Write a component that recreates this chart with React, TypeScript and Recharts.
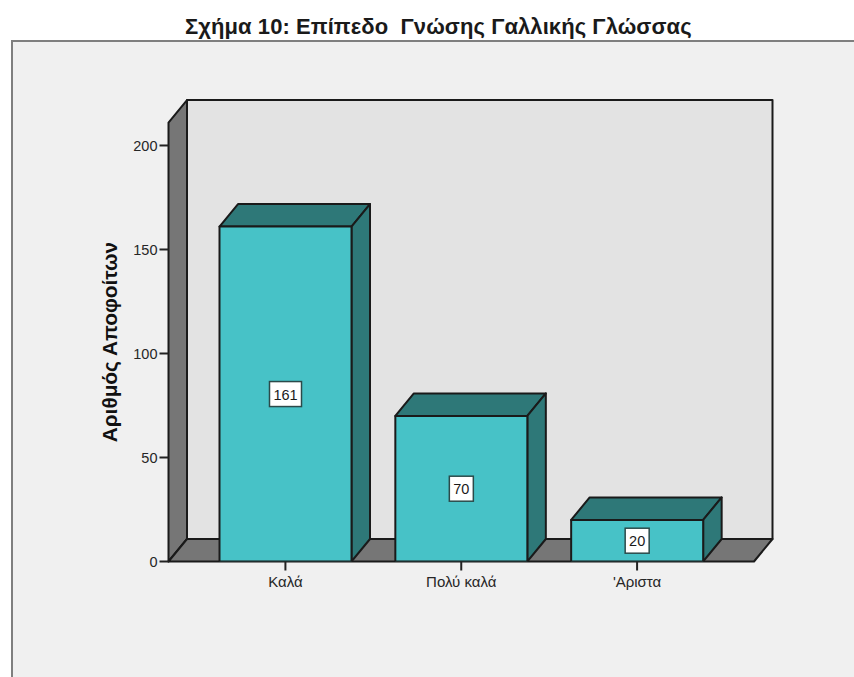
import React from "react";
import { BarChart, Bar, XAxis, YAxis, ReferenceArea, LabelList } from "recharts";

const categories = ["Καλά", "Πολύ καλά", "'Αριστα"];
const counts = [161, 70, 20];
const yTicks = [0, 50, 100, 150, 200];
const title = "Σχήμα 10: Επίπεδο  Γνώσης Γαλλικής Γλώσσας";
const yTitle = "Αριθμός Αποφοίτων";

const data = categories.map((name, i) => ({ name, count: counts[i] }));

const DX = 18.5;
const DY = 22.5;
const PAD = 29;
const INK = "#1a1a1a";
const FONT = "'Liberation Sans', Arial, sans-serif";

function Walls(props: any) {
  const { y, height } = props;
  const x = props.x - PAD;
  const width = props.width + 2 * PAD;
  const b = y + height;
  const r = x + width;
  return (
    <g stroke={INK} strokeWidth={2} strokeLinejoin="round">
      <rect x={x + DX} y={y - DY} width={width} height={height} fill="#e3e3e3" />
      <polygon points={`${x},${y} ${x + DX},${y - DY} ${x + DX},${b - DY} ${x},${b}`} fill="#767676" />
      <polygon points={`${x},${b} ${x + DX},${b - DY} ${r + DX},${b - DY} ${r},${b}`} fill="#767676" />
    </g>
  );
}

function Bar3D(props: any) {
  const { x, y, width, height } = props;
  const r = x + width;
  const b = y + height;
  return (
    <g stroke={INK} strokeWidth={2} strokeLinejoin="round">
      <polygon points={`${x},${y} ${x + DX},${y - DY} ${r + DX},${y - DY} ${r},${y}`} fill="#2e7878" />
      <polygon points={`${r},${y} ${r + DX},${y - DY} ${r + DX},${b - DY} ${r},${b}`} fill="#2e7878" />
      <rect x={x} y={y} width={width} height={height} fill="#47c2c7" />
    </g>
  );
}

function ValueBox(props: any) {
  const { x, y, width, height, value } = props;
  const cx = x + width / 2;
  const cy = y + height / 2;
  const w = String(value).length * 8 + 8;
  return (
    <g>
      <rect x={cx - w / 2} y={cy - 12.5} width={w} height={25} fill="#ffffff" stroke="#2b4a4a" strokeWidth={1.5} />
      <text x={cx} y={cy + 5.5} textAnchor="middle" fontSize={14.5} fontFamily={FONT} fill="#1a1a1a">
        {value}
      </text>
    </g>
  );
}

export default function App() {
  return (
    <div style={{ position: "absolute", left: 0, top: 0, width: 854, height: 677, background: "#ffffff", overflow: "hidden" }}>
      <div
        style={{
          position: "absolute",
          left: 11,
          top: 40,
          width: 860,
          height: 660,
          background: "#f0f0f0",
          border: "2px solid #7f7f7f",
          boxSizing: "border-box",
        }}
      />
      <div
        style={{
          position: "absolute",
          left: 185,
          top: 14,
          fontFamily: FONT,
          fontSize: 22,
          fontWeight: 700,
          letterSpacing: 0.07,
          lineHeight: "26px",
          whiteSpace: "pre",
          color: "#1a1a1a",
        }}
      >
        {title}
      </div>
      <div style={{ position: "absolute", left: 0, top: 0 }}>
        <BarChart
          width={854}
          height={677}
          data={data}
          margin={{ top: 122.6, right: 100, bottom: 85.5, left: 0 }}
          style={{ background: "transparent" }}
        >
          <ReferenceArea y1={0} y2={211} ifOverflow="visible" shape={<Walls />} />
          <XAxis
            dataKey="name"
            padding={{ left: PAD, right: PAD }}
            axisLine={false}
            tickSize={9}
            tickMargin={6}
            tickLine={{ stroke: "#222222", strokeWidth: 2 }}
            tick={{ fontSize: 15, fontFamily: FONT, fill: "#262626" }}
            interval={0}
          />
          <YAxis
            type="number"
            domain={[0, 211]}
            ticks={yTicks}
            width={168.5}
            axisLine={false}
            tickSize={9}
            tickMargin={2}
            tickLine={{ stroke: "#222222", strokeWidth: 2 }}
            tick={{ fontSize: 14.5, fontFamily: FONT, fill: "#262626" }}
            label={{
              value: yTitle,
              angle: -90,
              position: "center",
              dx: 25,
              dy: 0,
              style: { fontSize: 20.8, fontWeight: 700, fontFamily: FONT, fill: "#111111" },
            }}
            allowDataOverflow
          />
          <Bar dataKey="count" barSize={132} shape={<Bar3D />} isAnimationActive={false}>
            <LabelList dataKey="count" content={<ValueBox />} />
          </Bar>
        </BarChart>
      </div>
    </div>
  );
}
